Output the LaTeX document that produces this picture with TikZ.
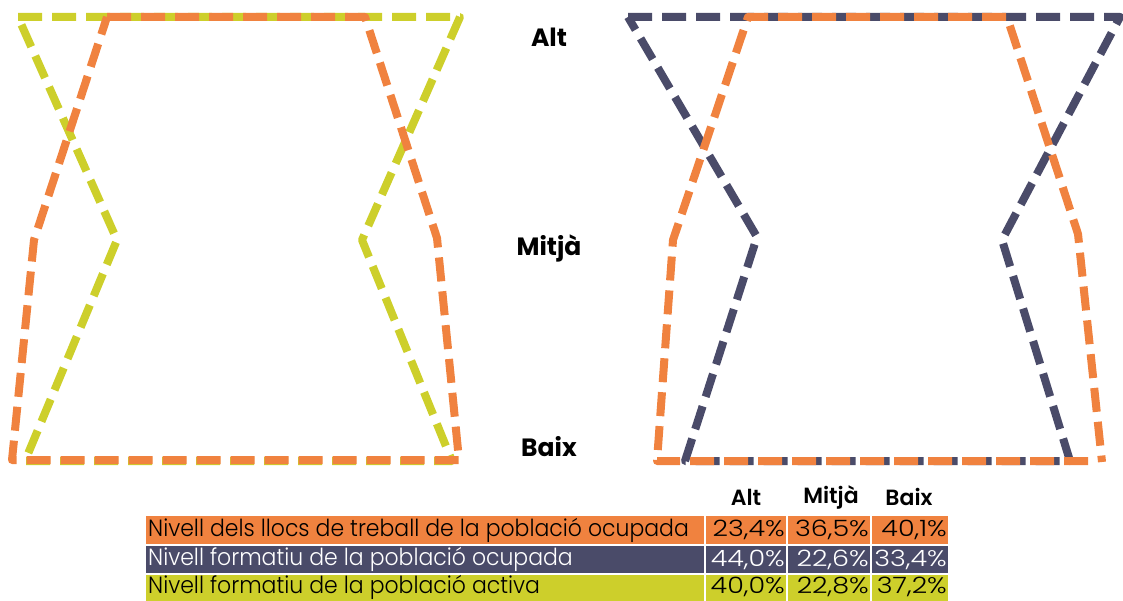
\documentclass[tikz,border=0pt]{standalone}
\usepackage{fontspec}
\setmainfont{Poppins}
\newfontfamily\lightfont{Poppins Light}[FakeStretch=0.935]
\newfontfamily\numfont{Poppins Light}[FakeStretch=1.2]
\newfontfamily\semifont{Poppins SemiBold}
\definecolor{orng}{HTML}{F0823F}
\definecolor{navy}{HTML}{4A4B69}
\definecolor{lime}{HTML}{CDCF2B}
\begin{document}
\begin{tikzpicture}[x=1pt,y=-1pt,
  series/.style={line width=8pt, dash pattern=on 24pt off 10pt, line join=round},
  lvl/.style={font=\fontsize{25}{25}\selectfont\bfseries, anchor=center, inner sep=0pt},
  hdr/.style={font=\semifont\fontsize{22}{22}\selectfont, anchor=center, inner sep=0pt},
  cell/.style={font=\lightfont\fontsize{23.5}{23.5}\selectfont, inner sep=0pt},
  num/.style={font=\numfont\fontsize{22.5}{22.5}\selectfont, inner sep=0pt, anchor=east},
]
\useasboundingbox (0,0) rectangle (1123,601);
% left chart
\draw[series, lime] (18,17) -- (460,17) -- (362,240) -- (452,461) -- (25,461) -- (117,240) -- cycle;
\draw[series, orng] (107,17) -- (365,17) -- (437,238) -- (459,460) -- (12,460) -- (34,240) -- cycle;
% right chart
\draw[series, navy] (628,17) -- (1120,17) -- (1002,240) -- (1070,461) -- (685,461) -- (757,237) -- cycle;
\draw[series, orng] (1088,461) -- (657,461) -- (673,240) -- (748,17) -- (1007,17) -- (1078,234) -- (1102,462);
% level labels
\node[lvl] (alt) at (549,37) {Alt};
\node[lvl] (mig) at (549,248) {Mitjà};
\node[lvl] (baix) at (549,447) {Baix};
% table
\fill[orng] (146,516) rectangle (704,544);
\fill[orng] (706,516) rectangle (786,544);
\fill[orng] (788,516) rectangle (870,544);
\fill[orng] (872,516) rectangle (948,544);
\fill[navy] (146,546) rectangle (704,573);
\fill[navy] (706,546) rectangle (786,573);
\fill[navy] (788,546) rectangle (870,573);
\fill[navy] (872,546) rectangle (948,573);
\fill[lime] (146,575) rectangle (704,601);
\fill[lime] (706,575) rectangle (786,601);
\fill[lime] (788,575) rectangle (870,601);
\fill[lime] (872,575) rectangle (948,601);
\node[hdr] (hA) at (746,497) {Alt};
\node[hdr] (hM) at (831,497) {Mitjà};
\node[hdr] (hB) at (909,497) {Baix};
\node[cell, anchor=west] (r1) at (148,530) {Nivell dels llocs de treball de la població ocupada};
\node[num] (r1a) at (785,530) {23,4\%};
\node[num] (r1m) at (869,530) {36,5\%};
\node[num] (r1b) at (947,530) {40,1\%};
\node[cell, anchor=west, text=white] (r2) at (148,559.5) {Nivell formatiu de la població ocupada};
\node[num, text=white] (r2a) at (785,559.5) {44,0\%};
\node[num, text=white] (r2m) at (869,559.5) {22,6\%};
\node[num, text=white] (r2b) at (947,559.5) {33,4\%};
\node[cell, anchor=west] (r3) at (148,587) {Nivell formatiu de la població activa};
\node[num] (r3a) at (785,587) {40,0\%};
\node[num] (r3m) at (869,587) {22,8\%};
\node[num] (r3b) at (947,587) {37,2\%};
\end{tikzpicture}
\end{document}
